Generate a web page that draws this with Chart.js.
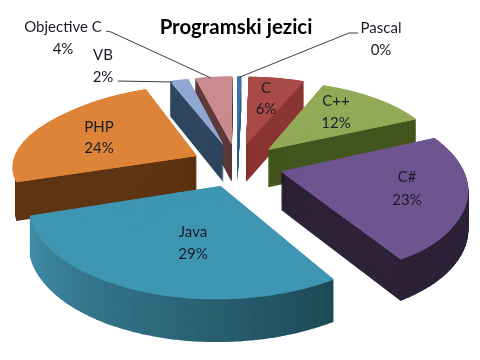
<!DOCTYPE html>
<html lang="hr">
<head>
<meta charset="UTF-8" />
<title>Programski jezici</title>
<script src="https://cdn.jsdelivr.net/npm/chart.js"></script>
<style>
  html, body { margin: 0; background: #fff; }
  canvas { display: block; }
</style>
</head>
<body>
<canvas id="pie" width="480" height="360"></canvas>
<script>
// data
const categories = ['Pascal', 'C', 'C++', 'C#', 'Java', 'PHP', 'VB', 'Objective C'];
const shares = [0.4, 6, 12, 23, 29, 24, 2, 4];

// colours
const topColors = ['#3f74b0', '#a94a48', '#92aa58', '#6f5590', '#3f96b3', '#dd8438', '#8fa7d1', '#c98b8d'];
const wallStart = ['#355f8d', '#8a3533', '#44561f', '#2d2238', '#1d4a56', '#5f3514', '#2f465f', '#5e3a3c'];
const wallEnd = ['#355f8d', '#8a3533', '#44561f', '#2d2238', '#4290ab', '#5f3514', '#2f465f', '#5e3a3c'];
const inkColor = '#1c1c28';

// label anchors: [x, name y, percent y]
const labelAnchors = [[381, 28, 50], [266, 88, 109], [336, 101, 123], [407, 177, 200],
                      [193, 232, 254], [99, 127, 148], [103, 55, 77], [63, 27, 49]];
const leaderLines = [
  [[106, 31], [111, 32], [211, 78]],
  [[118, 81], [173, 82]],
  [[358, 33], [349, 33], [240, 77]]
];

// projection of the tilted disc
const view = { cx: 237, cy: 165, sx: 181, sy: 86, persp: 0.17, depth: 38, explode: 0.25 };

function project(x, y, z) {
  const w = 1 - view.persp * y;
  return { x: view.cx + view.sx * x / w, y: view.cy + view.sy * y / w + view.depth * z / Math.sqrt(w) };
}

function mixColor(c1, c2, t) {
  const parts = [1, 3, 5].map(i => {
    const a = parseInt(c1.substr(i, 2), 16), b = parseInt(c2.substr(i, 2), 16);
    return Math.round(a + (b - a) * t);
  });
  return `rgb(${parts.join(',')})`;
}

// draws one piece of a slice through the arc element, warped to its projected place
function drawWedge(ctx, arc, mid, a0, a1, z, color) {
  const R = arc.outerRadius;
  const ex = view.explode * Math.cos(mid), ey = view.explode * Math.sin(mid);
  const apex = project(ex, ey, z);
  const p0 = project(ex + Math.cos(a0), ey + Math.sin(a0), z);
  const p1 = project(ex + Math.cos(a1), ey + Math.sin(a1), z);
  const ux0 = R * Math.cos(a0), uy0 = R * Math.sin(a0), ux1 = R * Math.cos(a1), uy1 = R * Math.sin(a1);
  const vx0 = p0.x - apex.x, vy0 = p0.y - apex.y, vx1 = p1.x - apex.x, vy1 = p1.y - apex.y;
  const det = ux0 * uy1 - ux1 * uy0;
  const a = (vx0 * uy1 - vx1 * uy0) / det, c = (vx1 * ux0 - vx0 * ux1) / det;
  const b = (vy0 * uy1 - vy1 * uy0) / det, d = (vy1 * ux0 - vy0 * ux1) / det;

  ctx.save();
  ctx.transform(a, b, c, d, apex.x - a * arc.x - c * arc.y, apex.y - b * arc.x - d * arc.y);
  const saved = { startAngle: arc.startAngle, endAngle: arc.endAngle, circumference: arc.circumference, options: arc.options };
  arc.startAngle = a0;
  arc.endAngle = a1;
  arc.circumference = a1 - a0;
  arc.options = Object.assign({}, saved.options, { backgroundColor: color, borderWidth: 0 });
  arc.draw(ctx);
  Object.assign(arc, saved);
  ctx.restore();
}

function drawSlice(ctx, arc, i) {
  const start = arc.startAngle, end = arc.endAngle, mid = (start + end) / 2;
  const pieces = Math.max(1, Math.ceil((end - start) / 0.05));
  const step = (end - start) / pieces;
  const layers = 60;
  for (let l = layers; l >= 0; l--) {
    // whole slice under the top face so the piece seams do not show
    if (l === 0) drawWedge(ctx, arc, mid, start, end, 0, topColors[i]);
    for (let p = 0; p < pieces; p++) {
      const a0 = start + p * step;
      const a1 = Math.min(end, a0 + step + 0.005);
      const color = l === 0 ? topColors[i] : mixColor(wallStart[i], wallEnd[i], (p + 0.5) / pieces);
      drawWedge(ctx, arc, mid, a0, a1, l / layers, color);
    }
  }
}

const tiltedPie = {
  id: 'tiltedPie',
  beforeDatasetsDraw(chart) {
    const ctx = chart.ctx;
    const arcs = chart.getDatasetMeta(0).data;
    // back slices first, the front one last
    const order = arcs.map((arc, i) => i).sort((p, q) =>
      Math.sin((arcs[p].startAngle + arcs[p].endAngle) / 2) - Math.sin((arcs[q].startAngle + arcs[q].endAngle) / 2));
    order.forEach(i => drawSlice(ctx, arcs[i], i));
    return false;
  },
  afterDraw(chart) {
    const ctx = chart.ctx;
    ctx.save();
    ctx.strokeStyle = '#3d3d48';
    ctx.lineWidth = 1;
    leaderLines.forEach(pts => {
      ctx.beginPath();
      pts.forEach((pt, n) => n ? ctx.lineTo(pt[0], pt[1]) : ctx.moveTo(pt[0], pt[1]));
      ctx.stroke();
    });
    ctx.textAlign = 'center';
    ctx.textBaseline = 'middle';
    ctx.fillStyle = inkColor;
    ctx.font = '15px Lato';
    categories.forEach((name, i) => {
      const pos = labelAnchors[i];
      ctx.fillText(name, pos[0], pos[1]);
      ctx.fillText(Math.round(shares[i]) + '%', pos[0], pos[2]);
    });
    ctx.fillStyle = '#000';
    ctx.font = 'bold 20.4px Lato';
    ctx.fillText('Programski jezici', 236, 27);
    ctx.restore();
  }
};

new Chart(document.getElementById('pie'), {
  type: 'pie',
  data: {
    labels: categories,
    datasets: [{ data: shares, backgroundColor: topColors, borderWidth: 0 }]
  },
  options: {
    responsive: false,
    animation: false,
    plugins: { legend: { display: false }, tooltip: { enabled: false } }
  },
  plugins: [tiltedPie]
});
</script>
</body>
</html>
